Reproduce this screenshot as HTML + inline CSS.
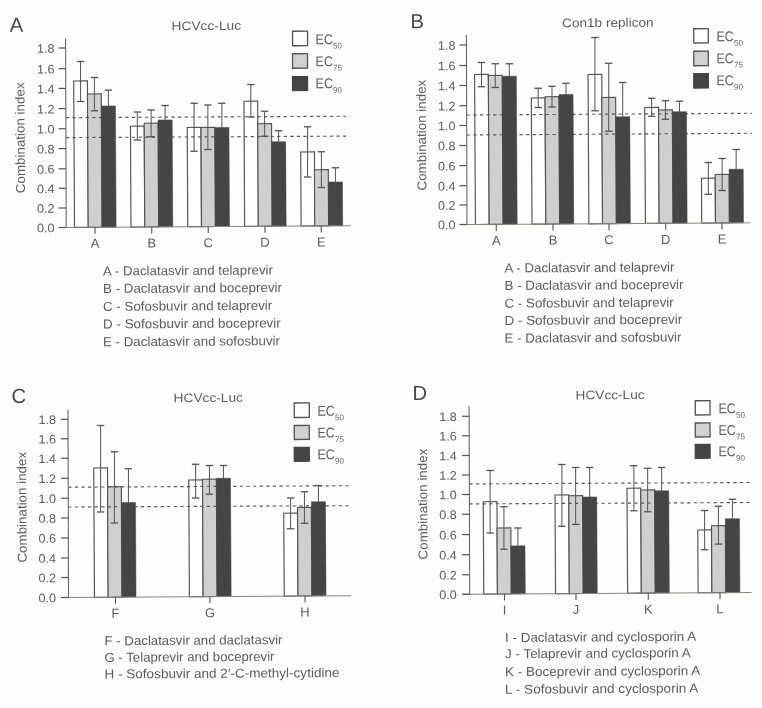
<!DOCTYPE html>
<html><head><meta charset="utf-8"><title>Combination index</title>
<style>
html,body{margin:0;padding:0;background:#fefefe;}
body{width:762px;height:708px;overflow:hidden;}
svg{display:block;font-family:"Liberation Sans",sans-serif;}
</style></head><body>
<svg width="762" height="708" viewBox="0 0 762 708">
<rect x="0" y="0" width="762" height="708" fill="#fefefe"/>
<defs><filter id="soft" x="0" y="0" width="762" height="708" filterUnits="userSpaceOnUse"><feGaussianBlur stdDeviation="0.42"/></filter></defs>
<g filter="url(#soft)">
<g>
<rect x="73.70" y="81.00" width="13.75" height="146.41" fill="#ffffff" stroke="#525252" stroke-width="1.15" transform="rotate(-0.32 73.70 81.00)"/>
<rect x="87.45" y="94.00" width="13.85" height="133.32" fill="#cfcfd1" stroke="#525252" stroke-width="1.15" transform="rotate(-0.32 87.45 94.00)"/>
<rect x="130.45" y="126.25" width="13.75" height="100.81" fill="#ffffff" stroke="#525252" stroke-width="1.15" transform="rotate(-0.32 130.45 126.25)"/>
<rect x="144.20" y="123.25" width="13.85" height="103.72" fill="#cfcfd1" stroke="#525252" stroke-width="1.15" transform="rotate(-0.32 144.20 123.25)"/>
<rect x="187.20" y="127.50" width="13.75" height="99.21" fill="#ffffff" stroke="#525252" stroke-width="1.15" transform="rotate(-0.32 187.20 127.50)"/>
<rect x="200.95" y="127.50" width="13.85" height="99.12" fill="#cfcfd1" stroke="#525252" stroke-width="1.15" transform="rotate(-0.32 200.95 127.50)"/>
<rect x="243.95" y="101.25" width="13.75" height="125.10" fill="#ffffff" stroke="#525252" stroke-width="1.15" transform="rotate(-0.32 243.95 101.25)"/>
<rect x="257.70" y="123.75" width="13.85" height="102.52" fill="#cfcfd1" stroke="#525252" stroke-width="1.15" transform="rotate(-0.32 257.70 123.75)"/>
<rect x="300.70" y="152.00" width="13.75" height="74.00" fill="#ffffff" stroke="#525252" stroke-width="1.15" transform="rotate(-0.32 300.70 152.00)"/>
<rect x="314.45" y="169.75" width="13.85" height="56.17" fill="#cfcfd1" stroke="#525252" stroke-width="1.15" transform="rotate(-0.32 314.45 169.75)"/>
<line x1="65.90" y1="117.70" x2="350.00" y2="116.20" stroke="#585858" stroke-width="1.15" stroke-dasharray="3.2 3.4"/>
<line x1="65.90" y1="137.60" x2="350.00" y2="136.10" stroke="#585858" stroke-width="1.15" stroke-dasharray="3.2 3.4"/>
<rect x="101.30" y="106.00" width="14.15" height="121.24" fill="#444444" stroke="#444444" stroke-width="0.5" transform="rotate(-0.32 101.30 106.00)"/>
<rect x="158.05" y="120.00" width="14.15" height="106.88" fill="#444444" stroke="#444444" stroke-width="0.5" transform="rotate(-0.32 158.05 120.00)"/>
<rect x="214.80" y="127.50" width="14.15" height="99.03" fill="#444444" stroke="#444444" stroke-width="0.5" transform="rotate(-0.32 214.80 127.50)"/>
<rect x="271.55" y="141.75" width="14.15" height="84.43" fill="#444444" stroke="#444444" stroke-width="0.5" transform="rotate(-0.32 271.55 141.75)"/>
<rect x="328.30" y="182.00" width="14.15" height="43.83" fill="#444444" stroke="#444444" stroke-width="0.5" transform="rotate(-0.32 328.30 182.00)"/>
<line x1="80.58" y1="61.50" x2="80.58" y2="101.50" stroke="#525252" stroke-width="1.0"/>
<line x1="76.88" y1="61.50" x2="84.28" y2="61.50" stroke="#525252" stroke-width="1.3"/>
<line x1="76.88" y1="101.50" x2="84.28" y2="101.50" stroke="#525252" stroke-width="1.3"/>
<line x1="94.38" y1="77.50" x2="94.38" y2="110.80" stroke="#525252" stroke-width="1.0"/>
<line x1="90.67" y1="77.50" x2="98.08" y2="77.50" stroke="#525252" stroke-width="1.3"/>
<line x1="90.67" y1="110.80" x2="98.08" y2="110.80" stroke="#525252" stroke-width="1.3"/>
<line x1="108.38" y1="90.10" x2="108.38" y2="107.00" stroke="#525252" stroke-width="1.0"/>
<line x1="104.67" y1="90.10" x2="112.08" y2="90.10" stroke="#525252" stroke-width="1.3"/>
<line x1="137.32" y1="112.00" x2="137.32" y2="140.00" stroke="#525252" stroke-width="1.0"/>
<line x1="133.62" y1="112.00" x2="141.02" y2="112.00" stroke="#525252" stroke-width="1.3"/>
<line x1="133.62" y1="140.00" x2="141.02" y2="140.00" stroke="#525252" stroke-width="1.3"/>
<line x1="151.12" y1="110.00" x2="151.12" y2="136.75" stroke="#525252" stroke-width="1.0"/>
<line x1="147.43" y1="110.00" x2="154.82" y2="110.00" stroke="#525252" stroke-width="1.3"/>
<line x1="147.43" y1="136.75" x2="154.82" y2="136.75" stroke="#525252" stroke-width="1.3"/>
<line x1="165.12" y1="105.50" x2="165.12" y2="121.00" stroke="#525252" stroke-width="1.0"/>
<line x1="161.43" y1="105.50" x2="168.82" y2="105.50" stroke="#525252" stroke-width="1.3"/>
<line x1="194.07" y1="103.25" x2="194.07" y2="151.25" stroke="#525252" stroke-width="1.0"/>
<line x1="190.38" y1="103.25" x2="197.77" y2="103.25" stroke="#525252" stroke-width="1.3"/>
<line x1="190.38" y1="151.25" x2="197.77" y2="151.25" stroke="#525252" stroke-width="1.3"/>
<line x1="207.88" y1="105.00" x2="207.88" y2="149.50" stroke="#525252" stroke-width="1.0"/>
<line x1="204.18" y1="105.00" x2="211.57" y2="105.00" stroke="#525252" stroke-width="1.3"/>
<line x1="204.18" y1="149.50" x2="211.57" y2="149.50" stroke="#525252" stroke-width="1.3"/>
<line x1="221.88" y1="103.25" x2="221.88" y2="128.50" stroke="#525252" stroke-width="1.0"/>
<line x1="218.18" y1="103.25" x2="225.57" y2="103.25" stroke="#525252" stroke-width="1.3"/>
<line x1="250.82" y1="84.50" x2="250.82" y2="117.00" stroke="#525252" stroke-width="1.0"/>
<line x1="247.12" y1="84.50" x2="254.52" y2="84.50" stroke="#525252" stroke-width="1.3"/>
<line x1="247.12" y1="117.00" x2="254.52" y2="117.00" stroke="#525252" stroke-width="1.3"/>
<line x1="264.62" y1="111.25" x2="264.62" y2="136.25" stroke="#525252" stroke-width="1.0"/>
<line x1="260.93" y1="111.25" x2="268.32" y2="111.25" stroke="#525252" stroke-width="1.3"/>
<line x1="260.93" y1="136.25" x2="268.32" y2="136.25" stroke="#525252" stroke-width="1.3"/>
<line x1="278.62" y1="130.75" x2="278.62" y2="142.75" stroke="#525252" stroke-width="1.0"/>
<line x1="274.93" y1="130.75" x2="282.32" y2="130.75" stroke="#525252" stroke-width="1.3"/>
<line x1="307.57" y1="126.75" x2="307.57" y2="177.00" stroke="#525252" stroke-width="1.0"/>
<line x1="303.88" y1="126.75" x2="311.27" y2="126.75" stroke="#525252" stroke-width="1.3"/>
<line x1="303.88" y1="177.00" x2="311.27" y2="177.00" stroke="#525252" stroke-width="1.3"/>
<line x1="321.38" y1="151.75" x2="321.38" y2="187.50" stroke="#525252" stroke-width="1.0"/>
<line x1="317.68" y1="151.75" x2="325.07" y2="151.75" stroke="#525252" stroke-width="1.3"/>
<line x1="317.68" y1="187.50" x2="325.07" y2="187.50" stroke="#525252" stroke-width="1.3"/>
<line x1="335.38" y1="167.75" x2="335.38" y2="183.00" stroke="#525252" stroke-width="1.0"/>
<line x1="331.68" y1="167.75" x2="339.07" y2="167.75" stroke="#525252" stroke-width="1.3"/>
<line x1="65.60" y1="38.50" x2="66.20" y2="228.00" stroke="#626262" stroke-width="1.05"/>
<line x1="60.00" y1="227.54" x2="350.75" y2="225.73" stroke="#85857d" stroke-width="1.0"/>
<line x1="58.60" y1="227.50" x2="65.90" y2="227.50" stroke="#525252" stroke-width="1.2"/>
<text x="54.6" y="232.25" font-size="12.4" text-anchor="end" fill="#5c5c5c" textLength="17.6" lengthAdjust="spacingAndGlyphs" transform="rotate(-0.36 54.6 232.25)">0.0</text>
<line x1="58.60" y1="208.00" x2="65.90" y2="208.00" stroke="#525252" stroke-width="1.2"/>
<text x="54.6" y="212.75" font-size="12.4" text-anchor="end" fill="#5c5c5c" textLength="17.6" lengthAdjust="spacingAndGlyphs" transform="rotate(-0.36 54.6 212.75)">0.2</text>
<line x1="58.60" y1="188.30" x2="65.90" y2="188.30" stroke="#525252" stroke-width="1.2"/>
<text x="54.6" y="193.05" font-size="12.4" text-anchor="end" fill="#5c5c5c" textLength="17.6" lengthAdjust="spacingAndGlyphs" transform="rotate(-0.36 54.6 193.05)">0.4</text>
<line x1="58.60" y1="168.80" x2="65.90" y2="168.80" stroke="#525252" stroke-width="1.2"/>
<text x="54.6" y="173.55" font-size="12.4" text-anchor="end" fill="#5c5c5c" textLength="17.6" lengthAdjust="spacingAndGlyphs" transform="rotate(-0.36 54.6 173.55)">0.6</text>
<line x1="58.60" y1="148.60" x2="65.90" y2="148.60" stroke="#525252" stroke-width="1.2"/>
<text x="54.6" y="153.35" font-size="12.4" text-anchor="end" fill="#5c5c5c" textLength="17.6" lengthAdjust="spacingAndGlyphs" transform="rotate(-0.36 54.6 153.35)">0.8</text>
<line x1="58.60" y1="128.75" x2="65.90" y2="128.75" stroke="#525252" stroke-width="1.2"/>
<text x="54.6" y="133.5" font-size="12.4" text-anchor="end" fill="#5c5c5c" textLength="17.6" lengthAdjust="spacingAndGlyphs" transform="rotate(-0.36 54.6 133.5)">1.0</text>
<line x1="58.60" y1="108.60" x2="65.90" y2="108.60" stroke="#525252" stroke-width="1.2"/>
<text x="54.6" y="113.35" font-size="12.4" text-anchor="end" fill="#5c5c5c" textLength="17.6" lengthAdjust="spacingAndGlyphs" transform="rotate(-0.36 54.6 113.35)">1.2</text>
<line x1="58.60" y1="88.40" x2="65.90" y2="88.40" stroke="#525252" stroke-width="1.2"/>
<text x="54.6" y="93.15" font-size="12.4" text-anchor="end" fill="#5c5c5c" textLength="17.6" lengthAdjust="spacingAndGlyphs" transform="rotate(-0.36 54.6 93.15)">1.4</text>
<line x1="58.60" y1="68.70" x2="65.90" y2="68.70" stroke="#525252" stroke-width="1.2"/>
<text x="54.6" y="73.45" font-size="12.4" text-anchor="end" fill="#5c5c5c" textLength="17.6" lengthAdjust="spacingAndGlyphs" transform="rotate(-0.36 54.6 73.45)">1.6</text>
<line x1="58.60" y1="48.00" x2="65.90" y2="48.00" stroke="#525252" stroke-width="1.2"/>
<text x="54.6" y="52.75" font-size="12.4" text-anchor="end" fill="#5c5c5c" textLength="17.6" lengthAdjust="spacingAndGlyphs" transform="rotate(-0.36 54.6 52.75)">1.8</text>
<line x1="95.00" y1="227.32" x2="95.00" y2="233.82" stroke="#525252" stroke-width="1.1"/>
<text x="95" y="247.81958" font-size="13" text-anchor="middle" fill="#5c5c5c" transform="rotate(-0.36 95 247.81958)">A</text>
<line x1="151.75" y1="226.97" x2="151.75" y2="233.47" stroke="#525252" stroke-width="1.1"/>
<text x="151.75" y="247.46773" font-size="13" text-anchor="middle" fill="#5c5c5c" transform="rotate(-0.36 151.75 247.46773)">B</text>
<line x1="208.25" y1="226.62" x2="208.25" y2="233.12" stroke="#525252" stroke-width="1.1"/>
<text x="208.25" y="247.11743" font-size="13" text-anchor="middle" fill="#5c5c5c" transform="rotate(-0.36 208.25 247.11743)">C</text>
<line x1="265.00" y1="226.27" x2="265.00" y2="232.77" stroke="#525252" stroke-width="1.1"/>
<text x="265" y="246.76558" font-size="13" text-anchor="middle" fill="#5c5c5c" transform="rotate(-0.36 265 246.76558)">D</text>
<line x1="321.25" y1="225.92" x2="321.25" y2="232.42" stroke="#525252" stroke-width="1.1"/>
<text x="321.25" y="246.41683" font-size="13" text-anchor="middle" fill="#5c5c5c" transform="rotate(-0.36 321.25 246.41683)">E</text>
<text x="171.6" y="30.2" font-size="12.5" text-anchor="start" fill="#5c5c5c" textLength="69.5" lengthAdjust="spacingAndGlyphs" transform="rotate(-0.36 171.6 30.2)">HCVcc-Luc</text>
<text x="9.8" y="31.8" font-size="20.3" text-anchor="start" fill="#484848" transform="rotate(-0.36 9.8 31.8)">A</text>
<text x="25" y="193.2" font-size="13" text-anchor="start" fill="#5c5c5c" textLength="110.8" lengthAdjust="spacingAndGlyphs" transform="rotate(-90.36 25 193.2)">Combination index</text>
<rect x="292.50" y="31.25" width="15.00" height="14.50" fill="#ffffff" stroke="#525252" stroke-width="1.3" transform="rotate(-0.32 292.50 31.25)"/>
<rect x="292.50" y="53.75" width="15.00" height="14.50" fill="#d1d1d3" stroke="#525252" stroke-width="1.3" transform="rotate(-0.32 292.50 53.75)"/>
<rect x="292.50" y="76.75" width="15.00" height="13.75" fill="#444444" stroke="#444444" stroke-width="1.3" transform="rotate(-0.32 292.50 76.75)"/>
<text x="315.59999999999997" y="44.2" font-size="14.2" text-anchor="start" fill="#5c5c5c" textLength="17.4" lengthAdjust="spacingAndGlyphs" transform="rotate(-0.36 315.59999999999997 44.2)">EC</text>
<text x="333.09999999999997" y="48.6" font-size="8.2" text-anchor="start" fill="#666666" textLength="9.0" lengthAdjust="spacingAndGlyphs" transform="rotate(-0.36 333.09999999999997 48.6)">50</text>
<text x="315.59999999999997" y="66.2" font-size="14.2" text-anchor="start" fill="#5c5c5c" textLength="17.4" lengthAdjust="spacingAndGlyphs" transform="rotate(-0.36 315.59999999999997 66.2)">EC</text>
<text x="333.09999999999997" y="70.60000000000001" font-size="8.2" text-anchor="start" fill="#666666" textLength="9.0" lengthAdjust="spacingAndGlyphs" transform="rotate(-0.36 333.09999999999997 70.60000000000001)">75</text>
<text x="315.59999999999997" y="88.3" font-size="14.2" text-anchor="start" fill="#5c5c5c" textLength="17.4" lengthAdjust="spacingAndGlyphs" transform="rotate(-0.36 315.59999999999997 88.3)">EC</text>
<text x="333.09999999999997" y="92.7" font-size="8.2" text-anchor="start" fill="#666666" textLength="9.0" lengthAdjust="spacingAndGlyphs" transform="rotate(-0.36 333.09999999999997 92.7)">90</text>
<text x="103" y="275.5" font-size="13" text-anchor="start" fill="#5c5c5c" textLength="170" lengthAdjust="spacingAndGlyphs" transform="rotate(-0.36 103 275.5)">A - Daclatasvir and telaprevir</text>
<text x="103" y="293" font-size="13" text-anchor="start" fill="#5c5c5c" textLength="179" lengthAdjust="spacingAndGlyphs" transform="rotate(-0.36 103 293)">B - Daclatasvir and boceprevir</text>
<text x="103" y="310.9" font-size="13" text-anchor="start" fill="#5c5c5c" textLength="169.3" lengthAdjust="spacingAndGlyphs" transform="rotate(-0.36 103 310.9)">C - Sofosbuvir and telaprevir</text>
<text x="103" y="328.5" font-size="13" text-anchor="start" fill="#5c5c5c" textLength="177.8" lengthAdjust="spacingAndGlyphs" transform="rotate(-0.36 103 328.5)">D - Sofosbuvir and boceprevir</text>
<text x="103" y="346.3" font-size="13" text-anchor="start" fill="#5c5c5c" textLength="177" lengthAdjust="spacingAndGlyphs" transform="rotate(-0.36 103 346.3)">E - Daclatasvir and sofosbuvir</text>
</g>
<g>
<rect x="474.60" y="74.50" width="13.75" height="150.01" fill="#ffffff" stroke="#525252" stroke-width="1.15" transform="rotate(-0.32 474.60 74.50)"/>
<rect x="488.35" y="75.50" width="13.85" height="148.92" fill="#cfcfd1" stroke="#525252" stroke-width="1.15" transform="rotate(-0.32 488.35 75.50)"/>
<rect x="531.32" y="98.00" width="13.75" height="126.16" fill="#ffffff" stroke="#525252" stroke-width="1.15" transform="rotate(-0.32 531.32 98.00)"/>
<rect x="545.07" y="96.75" width="13.85" height="127.32" fill="#cfcfd1" stroke="#525252" stroke-width="1.15" transform="rotate(-0.32 545.07 96.75)"/>
<rect x="588.04" y="74.50" width="13.75" height="149.31" fill="#ffffff" stroke="#525252" stroke-width="1.15" transform="rotate(-0.32 588.04 74.50)"/>
<rect x="601.79" y="97.50" width="13.85" height="126.22" fill="#cfcfd1" stroke="#525252" stroke-width="1.15" transform="rotate(-0.32 601.79 97.50)"/>
<rect x="644.76" y="107.50" width="13.75" height="115.95" fill="#ffffff" stroke="#525252" stroke-width="1.15" transform="rotate(-0.32 644.76 107.50)"/>
<rect x="658.51" y="110.00" width="13.85" height="113.37" fill="#cfcfd1" stroke="#525252" stroke-width="1.15" transform="rotate(-0.32 658.51 110.00)"/>
<rect x="701.48" y="178.25" width="13.75" height="44.85" fill="#ffffff" stroke="#525252" stroke-width="1.15" transform="rotate(-0.32 701.48 178.25)"/>
<rect x="715.23" y="174.50" width="13.85" height="48.52" fill="#cfcfd1" stroke="#525252" stroke-width="1.15" transform="rotate(-0.32 715.23 174.50)"/>
<line x1="466.70" y1="115.00" x2="752.00" y2="113.25" stroke="#585858" stroke-width="1.15" stroke-dasharray="3.2 3.4"/>
<line x1="466.70" y1="135.00" x2="752.00" y2="133.25" stroke="#585858" stroke-width="1.15" stroke-dasharray="3.2 3.4"/>
<rect x="502.20" y="76.25" width="14.15" height="148.09" fill="#444444" stroke="#444444" stroke-width="0.5" transform="rotate(-0.32 502.20 76.25)"/>
<rect x="558.92" y="94.50" width="14.15" height="129.48" fill="#444444" stroke="#444444" stroke-width="0.5" transform="rotate(-0.32 558.92 94.50)"/>
<rect x="615.64" y="116.75" width="14.15" height="106.88" fill="#444444" stroke="#444444" stroke-width="0.5" transform="rotate(-0.32 615.64 116.75)"/>
<rect x="672.36" y="111.75" width="14.15" height="111.53" fill="#444444" stroke="#444444" stroke-width="0.5" transform="rotate(-0.32 672.36 111.75)"/>
<rect x="729.08" y="169.25" width="14.15" height="53.68" fill="#444444" stroke="#444444" stroke-width="0.5" transform="rotate(-0.32 729.08 169.25)"/>
<line x1="481.48" y1="62.50" x2="481.48" y2="86.75" stroke="#525252" stroke-width="1.0"/>
<line x1="477.78" y1="62.50" x2="485.18" y2="62.50" stroke="#525252" stroke-width="1.3"/>
<line x1="477.78" y1="86.75" x2="485.18" y2="86.75" stroke="#525252" stroke-width="1.3"/>
<line x1="495.28" y1="63.75" x2="495.28" y2="87.50" stroke="#525252" stroke-width="1.0"/>
<line x1="491.58" y1="63.75" x2="498.98" y2="63.75" stroke="#525252" stroke-width="1.3"/>
<line x1="491.58" y1="87.50" x2="498.98" y2="87.50" stroke="#525252" stroke-width="1.3"/>
<line x1="509.28" y1="63.75" x2="509.28" y2="77.25" stroke="#525252" stroke-width="1.0"/>
<line x1="505.58" y1="63.75" x2="512.98" y2="63.75" stroke="#525252" stroke-width="1.3"/>
<line x1="538.20" y1="88.25" x2="538.20" y2="107.50" stroke="#525252" stroke-width="1.0"/>
<line x1="534.50" y1="88.25" x2="541.90" y2="88.25" stroke="#525252" stroke-width="1.3"/>
<line x1="534.50" y1="107.50" x2="541.90" y2="107.50" stroke="#525252" stroke-width="1.3"/>
<line x1="552.00" y1="86.25" x2="552.00" y2="107.00" stroke="#525252" stroke-width="1.0"/>
<line x1="548.29" y1="86.25" x2="555.70" y2="86.25" stroke="#525252" stroke-width="1.3"/>
<line x1="548.29" y1="107.00" x2="555.70" y2="107.00" stroke="#525252" stroke-width="1.3"/>
<line x1="566.00" y1="83.25" x2="566.00" y2="95.50" stroke="#525252" stroke-width="1.0"/>
<line x1="562.29" y1="83.25" x2="569.70" y2="83.25" stroke="#525252" stroke-width="1.3"/>
<line x1="594.91" y1="37.50" x2="594.91" y2="110.75" stroke="#525252" stroke-width="1.0"/>
<line x1="591.21" y1="37.50" x2="598.62" y2="37.50" stroke="#525252" stroke-width="1.3"/>
<line x1="591.21" y1="110.75" x2="598.62" y2="110.75" stroke="#525252" stroke-width="1.3"/>
<line x1="608.71" y1="63.25" x2="608.71" y2="131.25" stroke="#525252" stroke-width="1.0"/>
<line x1="605.01" y1="63.25" x2="612.41" y2="63.25" stroke="#525252" stroke-width="1.3"/>
<line x1="605.01" y1="131.25" x2="612.41" y2="131.25" stroke="#525252" stroke-width="1.3"/>
<line x1="622.71" y1="82.50" x2="622.71" y2="117.75" stroke="#525252" stroke-width="1.0"/>
<line x1="619.01" y1="82.50" x2="626.41" y2="82.50" stroke="#525252" stroke-width="1.3"/>
<line x1="651.63" y1="98.25" x2="651.63" y2="116.25" stroke="#525252" stroke-width="1.0"/>
<line x1="647.93" y1="98.25" x2="655.34" y2="98.25" stroke="#525252" stroke-width="1.3"/>
<line x1="647.93" y1="116.25" x2="655.34" y2="116.25" stroke="#525252" stroke-width="1.3"/>
<line x1="665.43" y1="100.75" x2="665.43" y2="119.25" stroke="#525252" stroke-width="1.0"/>
<line x1="661.73" y1="100.75" x2="669.13" y2="100.75" stroke="#525252" stroke-width="1.3"/>
<line x1="661.73" y1="119.25" x2="669.13" y2="119.25" stroke="#525252" stroke-width="1.3"/>
<line x1="679.43" y1="101.25" x2="679.43" y2="112.75" stroke="#525252" stroke-width="1.0"/>
<line x1="675.73" y1="101.25" x2="683.13" y2="101.25" stroke="#525252" stroke-width="1.3"/>
<line x1="708.36" y1="162.50" x2="708.36" y2="194.25" stroke="#525252" stroke-width="1.0"/>
<line x1="704.65" y1="162.50" x2="712.06" y2="162.50" stroke="#525252" stroke-width="1.3"/>
<line x1="704.65" y1="194.25" x2="712.06" y2="194.25" stroke="#525252" stroke-width="1.3"/>
<line x1="722.15" y1="158.50" x2="722.15" y2="190.50" stroke="#525252" stroke-width="1.0"/>
<line x1="718.45" y1="158.50" x2="725.86" y2="158.50" stroke="#525252" stroke-width="1.3"/>
<line x1="718.45" y1="190.50" x2="725.86" y2="190.50" stroke="#525252" stroke-width="1.3"/>
<line x1="736.15" y1="149.50" x2="736.15" y2="170.25" stroke="#525252" stroke-width="1.0"/>
<line x1="732.45" y1="149.50" x2="739.86" y2="149.50" stroke="#525252" stroke-width="1.3"/>
<line x1="466.40" y1="35.00" x2="467.00" y2="225.10" stroke="#626262" stroke-width="1.05"/>
<line x1="461.25" y1="224.63" x2="750.25" y2="222.84" stroke="#85857d" stroke-width="1.0"/>
<line x1="459.40" y1="224.50" x2="466.70" y2="224.50" stroke="#525252" stroke-width="1.2"/>
<text x="455.6" y="229.25" font-size="12.4" text-anchor="end" fill="#5c5c5c" textLength="17.6" lengthAdjust="spacingAndGlyphs" transform="rotate(-0.36 455.6 229.25)">0.0</text>
<line x1="459.40" y1="205.00" x2="466.70" y2="205.00" stroke="#525252" stroke-width="1.2"/>
<text x="455.6" y="209.75" font-size="12.4" text-anchor="end" fill="#5c5c5c" textLength="17.6" lengthAdjust="spacingAndGlyphs" transform="rotate(-0.36 455.6 209.75)">0.2</text>
<line x1="459.40" y1="185.75" x2="466.70" y2="185.75" stroke="#525252" stroke-width="1.2"/>
<text x="455.6" y="190.5" font-size="12.4" text-anchor="end" fill="#5c5c5c" textLength="17.6" lengthAdjust="spacingAndGlyphs" transform="rotate(-0.36 455.6 190.5)">0.4</text>
<line x1="459.40" y1="165.60" x2="466.70" y2="165.60" stroke="#525252" stroke-width="1.2"/>
<text x="455.6" y="170.35" font-size="12.4" text-anchor="end" fill="#5c5c5c" textLength="17.6" lengthAdjust="spacingAndGlyphs" transform="rotate(-0.36 455.6 170.35)">0.6</text>
<line x1="459.40" y1="145.50" x2="466.70" y2="145.50" stroke="#525252" stroke-width="1.2"/>
<text x="455.6" y="150.25" font-size="12.4" text-anchor="end" fill="#5c5c5c" textLength="17.6" lengthAdjust="spacingAndGlyphs" transform="rotate(-0.36 455.6 150.25)">0.8</text>
<line x1="459.40" y1="125.50" x2="466.70" y2="125.50" stroke="#525252" stroke-width="1.2"/>
<text x="455.6" y="130.25" font-size="12.4" text-anchor="end" fill="#5c5c5c" textLength="17.6" lengthAdjust="spacingAndGlyphs" transform="rotate(-0.36 455.6 130.25)">1.0</text>
<line x1="459.40" y1="105.75" x2="466.70" y2="105.75" stroke="#525252" stroke-width="1.2"/>
<text x="455.6" y="110.5" font-size="12.4" text-anchor="end" fill="#5c5c5c" textLength="17.6" lengthAdjust="spacingAndGlyphs" transform="rotate(-0.36 455.6 110.5)">1.2</text>
<line x1="459.40" y1="85.50" x2="466.70" y2="85.50" stroke="#525252" stroke-width="1.2"/>
<text x="455.6" y="90.25" font-size="12.4" text-anchor="end" fill="#5c5c5c" textLength="17.6" lengthAdjust="spacingAndGlyphs" transform="rotate(-0.36 455.6 90.25)">1.4</text>
<line x1="459.40" y1="65.50" x2="466.70" y2="65.50" stroke="#525252" stroke-width="1.2"/>
<text x="455.6" y="70.25" font-size="12.4" text-anchor="end" fill="#5c5c5c" textLength="17.6" lengthAdjust="spacingAndGlyphs" transform="rotate(-0.36 455.6 70.25)">1.6</text>
<line x1="459.40" y1="45.00" x2="466.70" y2="45.00" stroke="#525252" stroke-width="1.2"/>
<text x="455.6" y="49.75" font-size="12.4" text-anchor="end" fill="#5c5c5c" textLength="17.6" lengthAdjust="spacingAndGlyphs" transform="rotate(-0.36 455.6 49.75)">1.8</text>
<line x1="496.25" y1="224.42" x2="496.25" y2="230.92" stroke="#525252" stroke-width="1.1"/>
<text x="496.25" y="244.91679" font-size="13" text-anchor="middle" fill="#5c5c5c" transform="rotate(-0.36 496.25 244.91679)">A</text>
<line x1="553.00" y1="224.06" x2="553.00" y2="230.56" stroke="#525252" stroke-width="1.1"/>
<text x="553" y="244.56494" font-size="13" text-anchor="middle" fill="#5c5c5c" transform="rotate(-0.36 553 244.56494)">B</text>
<line x1="609.00" y1="223.72" x2="609.00" y2="230.22" stroke="#525252" stroke-width="1.1"/>
<text x="609" y="244.21774" font-size="13" text-anchor="middle" fill="#5c5c5c" transform="rotate(-0.36 609 244.21774)">C</text>
<line x1="665.75" y1="223.37" x2="665.75" y2="229.87" stroke="#525252" stroke-width="1.1"/>
<text x="665.75" y="243.86589" font-size="13" text-anchor="middle" fill="#5c5c5c" transform="rotate(-0.36 665.75 243.86589)">D</text>
<line x1="722.00" y1="223.02" x2="722.00" y2="229.52" stroke="#525252" stroke-width="1.1"/>
<text x="722" y="243.51713999999998" font-size="13" text-anchor="middle" fill="#5c5c5c" transform="rotate(-0.36 722 243.51713999999998)">E</text>
<text x="562.1" y="27.2" font-size="12.5" text-anchor="start" fill="#5c5c5c" textLength="91.5" lengthAdjust="spacingAndGlyphs" transform="rotate(-0.36 562.1 27.2)">Con1b replicon</text>
<text x="410.6" y="28.2" font-size="20.3" text-anchor="start" fill="#484848" transform="rotate(-0.36 410.6 28.2)">B</text>
<text x="426.4" y="190.5" font-size="13" text-anchor="start" fill="#5c5c5c" textLength="110.8" lengthAdjust="spacingAndGlyphs" transform="rotate(-90.36 426.4 190.5)">Combination index</text>
<rect x="693.75" y="28.75" width="14.50" height="14.25" fill="#ffffff" stroke="#525252" stroke-width="1.3" transform="rotate(-0.32 693.75 28.75)"/>
<rect x="693.75" y="51.25" width="14.50" height="14.50" fill="#d1d1d3" stroke="#525252" stroke-width="1.3" transform="rotate(-0.32 693.75 51.25)"/>
<rect x="693.75" y="73.75" width="14.50" height="14.25" fill="#444444" stroke="#444444" stroke-width="1.3" transform="rotate(-0.32 693.75 73.75)"/>
<text x="716.4" y="41.3" font-size="14.2" text-anchor="start" fill="#5c5c5c" textLength="17.4" lengthAdjust="spacingAndGlyphs" transform="rotate(-0.36 716.4 41.3)">EC</text>
<text x="733.9" y="45.699999999999996" font-size="8.2" text-anchor="start" fill="#666666" textLength="9.0" lengthAdjust="spacingAndGlyphs" transform="rotate(-0.36 733.9 45.699999999999996)">50</text>
<text x="716.4" y="63.2" font-size="14.2" text-anchor="start" fill="#5c5c5c" textLength="17.4" lengthAdjust="spacingAndGlyphs" transform="rotate(-0.36 716.4 63.2)">EC</text>
<text x="733.9" y="67.60000000000001" font-size="8.2" text-anchor="start" fill="#666666" textLength="9.0" lengthAdjust="spacingAndGlyphs" transform="rotate(-0.36 733.9 67.60000000000001)">75</text>
<text x="716.4" y="85.3" font-size="14.2" text-anchor="start" fill="#5c5c5c" textLength="17.4" lengthAdjust="spacingAndGlyphs" transform="rotate(-0.36 716.4 85.3)">EC</text>
<text x="733.9" y="89.7" font-size="8.2" text-anchor="start" fill="#666666" textLength="9.0" lengthAdjust="spacingAndGlyphs" transform="rotate(-0.36 733.9 89.7)">90</text>
<text x="504.5" y="272.5" font-size="13" text-anchor="start" fill="#5c5c5c" textLength="170" lengthAdjust="spacingAndGlyphs" transform="rotate(-0.36 504.5 272.5)">A - Daclatasvir and telaprevir</text>
<text x="504.5" y="290" font-size="13" text-anchor="start" fill="#5c5c5c" textLength="179" lengthAdjust="spacingAndGlyphs" transform="rotate(-0.36 504.5 290)">B - Daclatasvir and boceprevir</text>
<text x="504.5" y="307.75" font-size="13" text-anchor="start" fill="#5c5c5c" textLength="169.3" lengthAdjust="spacingAndGlyphs" transform="rotate(-0.36 504.5 307.75)">C - Sofosbuvir and telaprevir</text>
<text x="504.5" y="324.9" font-size="13" text-anchor="start" fill="#5c5c5c" textLength="177.8" lengthAdjust="spacingAndGlyphs" transform="rotate(-0.36 504.5 324.9)">D - Sofosbuvir and boceprevir</text>
<text x="504.5" y="342.6" font-size="13" text-anchor="start" fill="#5c5c5c" textLength="177" lengthAdjust="spacingAndGlyphs" transform="rotate(-0.36 504.5 342.6)">E - Daclatasvir and sofosbuvir</text>
</g>
<g>
<rect x="93.75" y="468.00" width="13.75" height="129.30" fill="#ffffff" stroke="#525252" stroke-width="1.15" transform="rotate(-0.32 93.75 468.00)"/>
<rect x="107.50" y="486.75" width="13.85" height="110.46" fill="#cfcfd1" stroke="#525252" stroke-width="1.15" transform="rotate(-0.32 107.50 486.75)"/>
<rect x="188.75" y="480.00" width="13.75" height="116.71" fill="#ffffff" stroke="#525252" stroke-width="1.15" transform="rotate(-0.32 188.75 480.00)"/>
<rect x="202.50" y="479.25" width="13.85" height="117.37" fill="#cfcfd1" stroke="#525252" stroke-width="1.15" transform="rotate(-0.32 202.50 479.25)"/>
<rect x="283.75" y="513.25" width="13.75" height="82.87" fill="#ffffff" stroke="#525252" stroke-width="1.15" transform="rotate(-0.32 283.75 513.25)"/>
<rect x="297.50" y="507.50" width="13.85" height="88.54" fill="#cfcfd1" stroke="#525252" stroke-width="1.15" transform="rotate(-0.32 297.50 507.50)"/>
<line x1="68.25" y1="487.20" x2="351.25" y2="485.70" stroke="#585858" stroke-width="1.15" stroke-dasharray="3.2 3.4"/>
<line x1="68.25" y1="507.00" x2="351.25" y2="505.70" stroke="#585858" stroke-width="1.15" stroke-dasharray="3.2 3.4"/>
<rect x="121.35" y="502.50" width="14.15" height="94.63" fill="#444444" stroke="#444444" stroke-width="0.5" transform="rotate(-0.32 121.35 502.50)"/>
<rect x="216.35" y="478.25" width="14.15" height="118.29" fill="#444444" stroke="#444444" stroke-width="0.5" transform="rotate(-0.32 216.35 478.25)"/>
<rect x="311.35" y="501.75" width="14.15" height="94.20" fill="#444444" stroke="#444444" stroke-width="0.5" transform="rotate(-0.32 311.35 501.75)"/>
<line x1="100.62" y1="425.50" x2="100.62" y2="512.00" stroke="#525252" stroke-width="1.0"/>
<line x1="96.92" y1="425.50" x2="104.33" y2="425.50" stroke="#525252" stroke-width="1.3"/>
<line x1="96.92" y1="512.00" x2="104.33" y2="512.00" stroke="#525252" stroke-width="1.3"/>
<line x1="114.42" y1="451.75" x2="114.42" y2="523.00" stroke="#525252" stroke-width="1.0"/>
<line x1="110.72" y1="451.75" x2="118.12" y2="451.75" stroke="#525252" stroke-width="1.3"/>
<line x1="110.72" y1="523.00" x2="118.12" y2="523.00" stroke="#525252" stroke-width="1.3"/>
<line x1="128.43" y1="468.75" x2="128.43" y2="503.50" stroke="#525252" stroke-width="1.0"/>
<line x1="124.73" y1="468.75" x2="132.12" y2="468.75" stroke="#525252" stroke-width="1.3"/>
<line x1="195.62" y1="464.25" x2="195.62" y2="498.00" stroke="#525252" stroke-width="1.0"/>
<line x1="191.93" y1="464.25" x2="199.32" y2="464.25" stroke="#525252" stroke-width="1.3"/>
<line x1="191.93" y1="498.00" x2="199.32" y2="498.00" stroke="#525252" stroke-width="1.3"/>
<line x1="209.43" y1="465.50" x2="209.43" y2="494.25" stroke="#525252" stroke-width="1.0"/>
<line x1="205.73" y1="465.50" x2="213.12" y2="465.50" stroke="#525252" stroke-width="1.3"/>
<line x1="205.73" y1="494.25" x2="213.12" y2="494.25" stroke="#525252" stroke-width="1.3"/>
<line x1="223.43" y1="465.50" x2="223.43" y2="479.25" stroke="#525252" stroke-width="1.0"/>
<line x1="219.73" y1="465.50" x2="227.12" y2="465.50" stroke="#525252" stroke-width="1.3"/>
<line x1="290.62" y1="498.00" x2="290.62" y2="528.75" stroke="#525252" stroke-width="1.0"/>
<line x1="286.93" y1="498.00" x2="294.32" y2="498.00" stroke="#525252" stroke-width="1.3"/>
<line x1="286.93" y1="528.75" x2="294.32" y2="528.75" stroke="#525252" stroke-width="1.3"/>
<line x1="304.43" y1="491.75" x2="304.43" y2="523.25" stroke="#525252" stroke-width="1.0"/>
<line x1="300.73" y1="491.75" x2="308.12" y2="491.75" stroke="#525252" stroke-width="1.3"/>
<line x1="300.73" y1="523.25" x2="308.12" y2="523.25" stroke="#525252" stroke-width="1.3"/>
<line x1="318.43" y1="485.50" x2="318.43" y2="502.75" stroke="#525252" stroke-width="1.0"/>
<line x1="314.73" y1="485.50" x2="322.12" y2="485.50" stroke="#525252" stroke-width="1.3"/>
<line x1="67.95" y1="409.50" x2="68.55" y2="598.00" stroke="#626262" stroke-width="1.05"/>
<line x1="62.00" y1="597.54" x2="351.25" y2="595.75" stroke="#85857d" stroke-width="1.0"/>
<line x1="60.95" y1="597.50" x2="68.25" y2="597.50" stroke="#525252" stroke-width="1.2"/>
<text x="56.0" y="602.25" font-size="12.4" text-anchor="end" fill="#5c5c5c" textLength="17.6" lengthAdjust="spacingAndGlyphs" transform="rotate(-0.36 56.0 602.25)">0.0</text>
<line x1="60.95" y1="577.50" x2="68.25" y2="577.50" stroke="#525252" stroke-width="1.2"/>
<text x="56.0" y="582.25" font-size="12.4" text-anchor="end" fill="#5c5c5c" textLength="17.6" lengthAdjust="spacingAndGlyphs" transform="rotate(-0.36 56.0 582.25)">0.2</text>
<line x1="60.95" y1="558.00" x2="68.25" y2="558.00" stroke="#525252" stroke-width="1.2"/>
<text x="56.0" y="562.75" font-size="12.4" text-anchor="end" fill="#5c5c5c" textLength="17.6" lengthAdjust="spacingAndGlyphs" transform="rotate(-0.36 56.0 562.75)">0.4</text>
<line x1="60.95" y1="538.00" x2="68.25" y2="538.00" stroke="#525252" stroke-width="1.2"/>
<text x="56.0" y="542.75" font-size="12.4" text-anchor="end" fill="#5c5c5c" textLength="17.6" lengthAdjust="spacingAndGlyphs" transform="rotate(-0.36 56.0 542.75)">0.6</text>
<line x1="60.95" y1="518.00" x2="68.25" y2="518.00" stroke="#525252" stroke-width="1.2"/>
<text x="56.0" y="522.75" font-size="12.4" text-anchor="end" fill="#5c5c5c" textLength="17.6" lengthAdjust="spacingAndGlyphs" transform="rotate(-0.36 56.0 522.75)">0.8</text>
<line x1="60.95" y1="498.25" x2="68.25" y2="498.25" stroke="#525252" stroke-width="1.2"/>
<text x="56.0" y="503.0" font-size="12.4" text-anchor="end" fill="#5c5c5c" textLength="17.6" lengthAdjust="spacingAndGlyphs" transform="rotate(-0.36 56.0 503.0)">1.0</text>
<line x1="60.95" y1="478.25" x2="68.25" y2="478.25" stroke="#525252" stroke-width="1.2"/>
<text x="56.0" y="483.0" font-size="12.4" text-anchor="end" fill="#5c5c5c" textLength="17.6" lengthAdjust="spacingAndGlyphs" transform="rotate(-0.36 56.0 483.0)">1.2</text>
<line x1="60.95" y1="458.25" x2="68.25" y2="458.25" stroke="#525252" stroke-width="1.2"/>
<text x="56.0" y="463.0" font-size="12.4" text-anchor="end" fill="#5c5c5c" textLength="17.6" lengthAdjust="spacingAndGlyphs" transform="rotate(-0.36 56.0 463.0)">1.4</text>
<line x1="60.95" y1="438.75" x2="68.25" y2="438.75" stroke="#525252" stroke-width="1.2"/>
<text x="56.0" y="443.5" font-size="12.4" text-anchor="end" fill="#5c5c5c" textLength="17.6" lengthAdjust="spacingAndGlyphs" transform="rotate(-0.36 56.0 443.5)">1.6</text>
<line x1="60.95" y1="419.25" x2="68.25" y2="419.25" stroke="#525252" stroke-width="1.2"/>
<text x="56.0" y="424.0" font-size="12.4" text-anchor="end" fill="#5c5c5c" textLength="17.6" lengthAdjust="spacingAndGlyphs" transform="rotate(-0.36 56.0 424.0)">1.8</text>
<line x1="115.50" y1="597.21" x2="115.50" y2="603.71" stroke="#525252" stroke-width="1.1"/>
<text x="115.5" y="617.70705" font-size="13" text-anchor="middle" fill="#5c5c5c" transform="rotate(-0.36 115.5 617.70705)">F</text>
<line x1="210.00" y1="596.62" x2="210.00" y2="603.12" stroke="#525252" stroke-width="1.1"/>
<text x="210" y="617.12115" font-size="13" text-anchor="middle" fill="#5c5c5c" transform="rotate(-0.36 210 617.12115)">G</text>
<line x1="305.00" y1="596.03" x2="305.00" y2="602.53" stroke="#525252" stroke-width="1.1"/>
<text x="305" y="616.53215" font-size="13" text-anchor="middle" fill="#5c5c5c" transform="rotate(-0.36 305 616.53215)">H</text>
<text x="173.6" y="402.2" font-size="12.5" text-anchor="start" fill="#5c5c5c" textLength="69.4" lengthAdjust="spacingAndGlyphs" transform="rotate(-0.36 173.6 402.2)">HCVcc-Luc</text>
<text x="11.5" y="403.1" font-size="20.3" text-anchor="start" fill="#484848" transform="rotate(-0.36 11.5 403.1)">C</text>
<text x="26.8" y="562.6" font-size="13" text-anchor="start" fill="#5c5c5c" textLength="110.8" lengthAdjust="spacingAndGlyphs" transform="rotate(-90.36 26.8 562.6)">Combination index</text>
<rect x="294.25" y="403.00" width="15.00" height="14.50" fill="#ffffff" stroke="#525252" stroke-width="1.3" transform="rotate(-0.32 294.25 403.00)"/>
<rect x="294.25" y="425.50" width="15.00" height="14.00" fill="#d1d1d3" stroke="#525252" stroke-width="1.3" transform="rotate(-0.32 294.25 425.50)"/>
<rect x="294.25" y="447.50" width="15.00" height="13.75" fill="#444444" stroke="#444444" stroke-width="1.3" transform="rotate(-0.32 294.25 447.50)"/>
<text x="317.4" y="415.8" font-size="14.2" text-anchor="start" fill="#5c5c5c" textLength="17.4" lengthAdjust="spacingAndGlyphs" transform="rotate(-0.36 317.4 415.8)">EC</text>
<text x="334.9" y="420.2" font-size="8.2" text-anchor="start" fill="#666666" textLength="9.0" lengthAdjust="spacingAndGlyphs" transform="rotate(-0.36 334.9 420.2)">50</text>
<text x="317.4" y="437.6" font-size="14.2" text-anchor="start" fill="#5c5c5c" textLength="17.4" lengthAdjust="spacingAndGlyphs" transform="rotate(-0.36 317.4 437.6)">EC</text>
<text x="334.9" y="442.0" font-size="8.2" text-anchor="start" fill="#666666" textLength="9.0" lengthAdjust="spacingAndGlyphs" transform="rotate(-0.36 334.9 442.0)">75</text>
<text x="317.4" y="459.3" font-size="14.2" text-anchor="start" fill="#5c5c5c" textLength="17.4" lengthAdjust="spacingAndGlyphs" transform="rotate(-0.36 317.4 459.3)">EC</text>
<text x="334.9" y="463.7" font-size="8.2" text-anchor="start" fill="#666666" textLength="9.0" lengthAdjust="spacingAndGlyphs" transform="rotate(-0.36 334.9 463.7)">90</text>
<text x="104.5" y="645.25" font-size="13" text-anchor="start" fill="#5c5c5c" textLength="178" lengthAdjust="spacingAndGlyphs" transform="rotate(-0.36 104.5 645.25)">F - Daclatasvir and daclatasvir</text>
<text x="104.5" y="661.9" font-size="13" text-anchor="start" fill="#5c5c5c" textLength="170" lengthAdjust="spacingAndGlyphs" transform="rotate(-0.36 104.5 661.9)">G - Telaprevir and boceprevir</text>
<text x="104.5" y="678.5" font-size="13" text-anchor="start" fill="#5c5c5c" textLength="235" lengthAdjust="spacingAndGlyphs" transform="rotate(-0.36 104.5 678.5)">H - Sofosbuvir and 2′-C-methyl-cytidine</text>
</g>
<g>
<rect x="483.25" y="501.75" width="13.75" height="92.37" fill="#ffffff" stroke="#525252" stroke-width="1.15" transform="rotate(-0.32 483.25 501.75)"/>
<rect x="497.00" y="528.00" width="13.85" height="66.04" fill="#cfcfd1" stroke="#525252" stroke-width="1.15" transform="rotate(-0.32 497.00 528.00)"/>
<rect x="555.00" y="495.00" width="13.75" height="98.68" fill="#ffffff" stroke="#525252" stroke-width="1.15" transform="rotate(-0.32 555.00 495.00)"/>
<rect x="568.75" y="495.75" width="13.85" height="97.84" fill="#cfcfd1" stroke="#525252" stroke-width="1.15" transform="rotate(-0.32 568.75 495.75)"/>
<rect x="627.00" y="488.25" width="13.75" height="104.98" fill="#ffffff" stroke="#525252" stroke-width="1.15" transform="rotate(-0.32 627.00 488.25)"/>
<rect x="640.75" y="490.00" width="13.85" height="103.14" fill="#cfcfd1" stroke="#525252" stroke-width="1.15" transform="rotate(-0.32 640.75 490.00)"/>
<rect x="697.75" y="530.00" width="13.75" height="62.79" fill="#ffffff" stroke="#525252" stroke-width="1.15" transform="rotate(-0.32 697.75 530.00)"/>
<rect x="711.50" y="525.75" width="13.85" height="66.96" fill="#cfcfd1" stroke="#525252" stroke-width="1.15" transform="rotate(-0.32 711.50 525.75)"/>
<line x1="469.40" y1="483.90" x2="753.00" y2="482.50" stroke="#585858" stroke-width="1.15" stroke-dasharray="3.2 3.4"/>
<line x1="469.40" y1="503.90" x2="753.00" y2="502.50" stroke="#585858" stroke-width="1.15" stroke-dasharray="3.2 3.4"/>
<rect x="510.85" y="545.90" width="14.15" height="48.05" fill="#444444" stroke="#444444" stroke-width="0.5" transform="rotate(-0.32 510.85 545.90)"/>
<rect x="582.60" y="497.00" width="14.15" height="96.50" fill="#444444" stroke="#444444" stroke-width="0.5" transform="rotate(-0.32 582.60 497.00)"/>
<rect x="654.60" y="490.75" width="14.15" height="102.31" fill="#444444" stroke="#444444" stroke-width="0.5" transform="rotate(-0.32 654.60 490.75)"/>
<rect x="725.35" y="518.75" width="14.15" height="73.87" fill="#444444" stroke="#444444" stroke-width="0.5" transform="rotate(-0.32 725.35 518.75)"/>
<line x1="490.12" y1="470.50" x2="490.12" y2="533.00" stroke="#525252" stroke-width="1.0"/>
<line x1="486.43" y1="470.50" x2="493.82" y2="470.50" stroke="#525252" stroke-width="1.3"/>
<line x1="486.43" y1="533.00" x2="493.82" y2="533.00" stroke="#525252" stroke-width="1.3"/>
<line x1="503.93" y1="506.75" x2="503.93" y2="549.25" stroke="#525252" stroke-width="1.0"/>
<line x1="500.23" y1="506.75" x2="507.62" y2="506.75" stroke="#525252" stroke-width="1.3"/>
<line x1="500.23" y1="549.25" x2="507.62" y2="549.25" stroke="#525252" stroke-width="1.3"/>
<line x1="517.92" y1="528.00" x2="517.92" y2="546.90" stroke="#525252" stroke-width="1.0"/>
<line x1="514.22" y1="528.00" x2="521.62" y2="528.00" stroke="#525252" stroke-width="1.3"/>
<line x1="561.88" y1="464.50" x2="561.88" y2="526.25" stroke="#525252" stroke-width="1.0"/>
<line x1="558.17" y1="464.50" x2="565.58" y2="464.50" stroke="#525252" stroke-width="1.3"/>
<line x1="558.17" y1="526.25" x2="565.58" y2="526.25" stroke="#525252" stroke-width="1.3"/>
<line x1="575.67" y1="467.50" x2="575.67" y2="524.40" stroke="#525252" stroke-width="1.0"/>
<line x1="571.97" y1="467.50" x2="579.38" y2="467.50" stroke="#525252" stroke-width="1.3"/>
<line x1="571.97" y1="524.40" x2="579.38" y2="524.40" stroke="#525252" stroke-width="1.3"/>
<line x1="589.67" y1="467.50" x2="589.67" y2="498.00" stroke="#525252" stroke-width="1.0"/>
<line x1="585.97" y1="467.50" x2="593.38" y2="467.50" stroke="#525252" stroke-width="1.3"/>
<line x1="633.88" y1="465.75" x2="633.88" y2="510.75" stroke="#525252" stroke-width="1.0"/>
<line x1="630.17" y1="465.75" x2="637.58" y2="465.75" stroke="#525252" stroke-width="1.3"/>
<line x1="630.17" y1="510.75" x2="637.58" y2="510.75" stroke="#525252" stroke-width="1.3"/>
<line x1="647.67" y1="468.25" x2="647.67" y2="511.75" stroke="#525252" stroke-width="1.0"/>
<line x1="643.97" y1="468.25" x2="651.38" y2="468.25" stroke="#525252" stroke-width="1.3"/>
<line x1="643.97" y1="511.75" x2="651.38" y2="511.75" stroke="#525252" stroke-width="1.3"/>
<line x1="661.67" y1="467.50" x2="661.67" y2="491.75" stroke="#525252" stroke-width="1.0"/>
<line x1="657.97" y1="467.50" x2="665.38" y2="467.50" stroke="#525252" stroke-width="1.3"/>
<line x1="704.62" y1="510.50" x2="704.62" y2="549.75" stroke="#525252" stroke-width="1.0"/>
<line x1="700.92" y1="510.50" x2="708.33" y2="510.50" stroke="#525252" stroke-width="1.3"/>
<line x1="700.92" y1="549.75" x2="708.33" y2="549.75" stroke="#525252" stroke-width="1.3"/>
<line x1="718.42" y1="506.25" x2="718.42" y2="544.10" stroke="#525252" stroke-width="1.0"/>
<line x1="714.72" y1="506.25" x2="722.12" y2="506.25" stroke="#525252" stroke-width="1.3"/>
<line x1="714.72" y1="544.10" x2="722.12" y2="544.10" stroke="#525252" stroke-width="1.3"/>
<line x1="732.42" y1="499.25" x2="732.42" y2="519.75" stroke="#525252" stroke-width="1.0"/>
<line x1="728.72" y1="499.25" x2="736.12" y2="499.25" stroke="#525252" stroke-width="1.3"/>
<line x1="469.10" y1="406.25" x2="469.70" y2="594.75" stroke="#626262" stroke-width="1.05"/>
<line x1="462.50" y1="594.29" x2="751.50" y2="592.50" stroke="#85857d" stroke-width="1.0"/>
<line x1="462.10" y1="594.25" x2="469.40" y2="594.25" stroke="#525252" stroke-width="1.2"/>
<text x="456.8" y="599.0" font-size="12.4" text-anchor="end" fill="#5c5c5c" textLength="17.6" lengthAdjust="spacingAndGlyphs" transform="rotate(-0.36 456.8 599.0)">0.0</text>
<line x1="462.10" y1="574.75" x2="469.40" y2="574.75" stroke="#525252" stroke-width="1.2"/>
<text x="456.8" y="579.5" font-size="12.4" text-anchor="end" fill="#5c5c5c" textLength="17.6" lengthAdjust="spacingAndGlyphs" transform="rotate(-0.36 456.8 579.5)">0.2</text>
<line x1="462.10" y1="554.75" x2="469.40" y2="554.75" stroke="#525252" stroke-width="1.2"/>
<text x="456.8" y="559.5" font-size="12.4" text-anchor="end" fill="#5c5c5c" textLength="17.6" lengthAdjust="spacingAndGlyphs" transform="rotate(-0.36 456.8 559.5)">0.4</text>
<line x1="462.10" y1="534.60" x2="469.40" y2="534.60" stroke="#525252" stroke-width="1.2"/>
<text x="456.8" y="539.35" font-size="12.4" text-anchor="end" fill="#5c5c5c" textLength="17.6" lengthAdjust="spacingAndGlyphs" transform="rotate(-0.36 456.8 539.35)">0.6</text>
<line x1="462.10" y1="514.25" x2="469.40" y2="514.25" stroke="#525252" stroke-width="1.2"/>
<text x="456.8" y="519.0" font-size="12.4" text-anchor="end" fill="#5c5c5c" textLength="17.6" lengthAdjust="spacingAndGlyphs" transform="rotate(-0.36 456.8 519.0)">0.8</text>
<line x1="462.10" y1="494.50" x2="469.40" y2="494.50" stroke="#525252" stroke-width="1.2"/>
<text x="456.8" y="499.25" font-size="12.4" text-anchor="end" fill="#5c5c5c" textLength="17.6" lengthAdjust="spacingAndGlyphs" transform="rotate(-0.36 456.8 499.25)">1.0</text>
<line x1="462.10" y1="475.00" x2="469.40" y2="475.00" stroke="#525252" stroke-width="1.2"/>
<text x="456.8" y="479.75" font-size="12.4" text-anchor="end" fill="#5c5c5c" textLength="17.6" lengthAdjust="spacingAndGlyphs" transform="rotate(-0.36 456.8 479.75)">1.2</text>
<line x1="462.10" y1="455.50" x2="469.40" y2="455.50" stroke="#525252" stroke-width="1.2"/>
<text x="456.8" y="460.25" font-size="12.4" text-anchor="end" fill="#5c5c5c" textLength="17.6" lengthAdjust="spacingAndGlyphs" transform="rotate(-0.36 456.8 460.25)">1.4</text>
<line x1="462.10" y1="435.75" x2="469.40" y2="435.75" stroke="#525252" stroke-width="1.2"/>
<text x="456.8" y="440.5" font-size="12.4" text-anchor="end" fill="#5c5c5c" textLength="17.6" lengthAdjust="spacingAndGlyphs" transform="rotate(-0.36 456.8 440.5)">1.6</text>
<line x1="462.10" y1="416.25" x2="469.40" y2="416.25" stroke="#525252" stroke-width="1.2"/>
<text x="456.8" y="421.0" font-size="12.4" text-anchor="end" fill="#5c5c5c" textLength="17.6" lengthAdjust="spacingAndGlyphs" transform="rotate(-0.36 456.8 421.0)">1.8</text>
<line x1="504.50" y1="594.03" x2="504.50" y2="600.53" stroke="#525252" stroke-width="1.1"/>
<text x="504.5" y="614.53238" font-size="13" text-anchor="middle" fill="#5c5c5c" transform="rotate(-0.36 504.5 614.53238)">I</text>
<line x1="576.00" y1="593.59" x2="576.00" y2="600.09" stroke="#525252" stroke-width="1.1"/>
<text x="576" y="614.08908" font-size="13" text-anchor="middle" fill="#5c5c5c" transform="rotate(-0.36 576 614.08908)">J</text>
<line x1="648.25" y1="593.14" x2="648.25" y2="599.64" stroke="#525252" stroke-width="1.1"/>
<text x="648.25" y="613.64113" font-size="13" text-anchor="middle" fill="#5c5c5c" transform="rotate(-0.36 648.25 613.64113)">K</text>
<line x1="720.00" y1="592.70" x2="720.00" y2="599.20" stroke="#525252" stroke-width="1.1"/>
<text x="720" y="613.19628" font-size="13" text-anchor="middle" fill="#5c5c5c" transform="rotate(-0.36 720 613.19628)">L</text>
<text x="575.6" y="399.4" font-size="12.5" text-anchor="start" fill="#5c5c5c" textLength="69.0" lengthAdjust="spacingAndGlyphs" transform="rotate(-0.36 575.6 399.4)">HCVcc-Luc</text>
<text x="412.4" y="400.1" font-size="20.3" text-anchor="start" fill="#484848" transform="rotate(-0.36 412.4 400.1)">D</text>
<text x="427.6" y="559.4" font-size="13" text-anchor="start" fill="#5c5c5c" textLength="110.8" lengthAdjust="spacingAndGlyphs" transform="rotate(-90.36 427.6 559.4)">Combination index</text>
<rect x="695.25" y="400.75" width="14.75" height="14.25" fill="#ffffff" stroke="#525252" stroke-width="1.3" transform="rotate(-0.32 695.25 400.75)"/>
<rect x="695.25" y="423.00" width="14.75" height="14.00" fill="#d1d1d3" stroke="#525252" stroke-width="1.3" transform="rotate(-0.32 695.25 423.00)"/>
<rect x="695.25" y="444.50" width="14.75" height="13.75" fill="#444444" stroke="#444444" stroke-width="1.3" transform="rotate(-0.32 695.25 444.50)"/>
<text x="718.4" y="413.3" font-size="14.2" text-anchor="start" fill="#5c5c5c" textLength="17.4" lengthAdjust="spacingAndGlyphs" transform="rotate(-0.36 718.4 413.3)">EC</text>
<text x="735.9" y="417.7" font-size="8.2" text-anchor="start" fill="#666666" textLength="9.0" lengthAdjust="spacingAndGlyphs" transform="rotate(-0.36 735.9 417.7)">50</text>
<text x="718.4" y="435" font-size="14.2" text-anchor="start" fill="#5c5c5c" textLength="17.4" lengthAdjust="spacingAndGlyphs" transform="rotate(-0.36 718.4 435)">EC</text>
<text x="735.9" y="439.4" font-size="8.2" text-anchor="start" fill="#666666" textLength="9.0" lengthAdjust="spacingAndGlyphs" transform="rotate(-0.36 735.9 439.4)">75</text>
<text x="718.4" y="456.3" font-size="14.2" text-anchor="start" fill="#5c5c5c" textLength="17.4" lengthAdjust="spacingAndGlyphs" transform="rotate(-0.36 718.4 456.3)">EC</text>
<text x="735.9" y="460.7" font-size="8.2" text-anchor="start" fill="#666666" textLength="9.0" lengthAdjust="spacingAndGlyphs" transform="rotate(-0.36 735.9 460.7)">90</text>
<text x="505" y="642" font-size="13" text-anchor="start" fill="#5c5c5c" textLength="191.3" lengthAdjust="spacingAndGlyphs" transform="rotate(-0.36 505 642)">I - Daclatasvir and cyclosporin A</text>
<text x="505" y="658.25" font-size="13" text-anchor="start" fill="#5c5c5c" textLength="185.8" lengthAdjust="spacingAndGlyphs" transform="rotate(-0.36 505 658.25)">J - Telaprevir and cyclosporin A</text>
<text x="505" y="676.25" font-size="13" text-anchor="start" fill="#5c5c5c" textLength="195.3" lengthAdjust="spacingAndGlyphs" transform="rotate(-0.36 505 676.25)">K - Boceprevir and cyclosporin A</text>
<text x="505" y="693.75" font-size="13" text-anchor="start" fill="#5c5c5c" textLength="193.3" lengthAdjust="spacingAndGlyphs" transform="rotate(-0.36 505 693.75)">L - Sofosbuvir and cyclosporin A</text>
</g>
</g>
</svg>
</body></html>
